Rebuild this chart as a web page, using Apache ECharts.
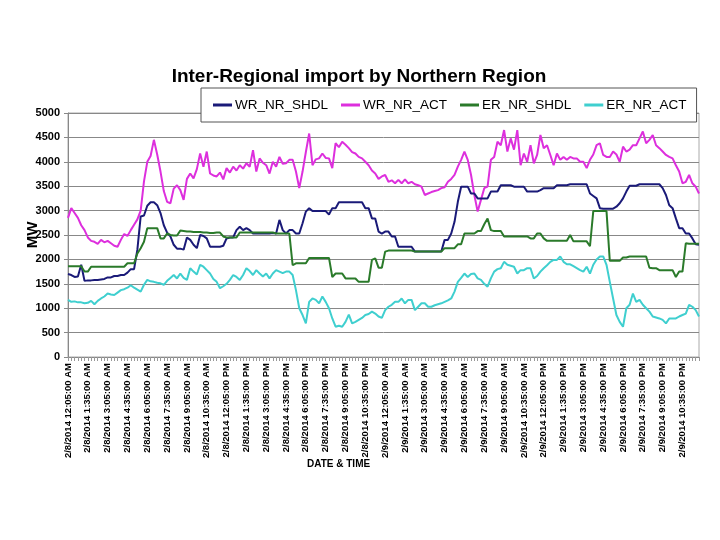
<!DOCTYPE html>
<html>
<head>
<meta charset="utf-8">
<script src="https://cdn.jsdelivr.net/npm/echarts@6/dist/echarts.min.js"></script>
<style>
html,body{margin:0;padding:0;background:#fff;}
#chart{width:720px;height:540px;}
</style>
</head>
<body>
<div id="chart"></div>
<script>
// Time axis: 2/8/2014 12:05 AM to 2/9/2014 ~11:50 PM, 15-minute samples (192 points)
const startDay = 8;
const stepMinutes = 15;
const pointCount = 192;

const seriesNames = ['WR_NR_SHDL', 'WR_NR_ACT', 'ER_NR_SHDL', 'ER_NR_ACT'];

const wrNrShdl = [
  1700,1680,1640,1650, 1890,1560,1570,1570, 1580,1580,1590,1600, 1630,1630,1660,1660,
  1680,1680,1730,1800, 1800,2200,2880,2900, 3100,3170,3170,3110, 2950,2700,2550,2470,
  2300,2220,2220,2200, 2450,2400,2300,2230, 2500,2480,2430,2260, 2260,2260,2260,2280,
  2430,2450,2450,2600, 2670,2600,2640,2600, 2530,2530,2530,2530, 2530,2530,2540,2530,
  2810,2600,2530,2600, 2600,2530,2530,2740, 2980,3050,2990,2990, 2990,2990,2990,2920,
  3050,3050,3170,3170, 3170,3170,3170,3170, 3170,3170,3050,3050, 2840,2840,2570,2530,
  2570,2570,2470,2470, 2260,2260,2260,2260, 2260,2160,2160,2160, 2160,2160,2160,2160,
  2160,2160,2400,2400, 2530,2770,3180,3490, 3490,3490,3350,3350, 3250,3250,3250,3250,
  3390,3390,3390,3520, 3520,3520,3520,3490, 3490,3490,3490,3390, 3390,3390,3390,3420,
  3460,3460,3460,3460, 3520,3520,3520,3520, 3540,3540,3540,3540, 3540,3540,3350,3300,
  3250,3050,3040,3040, 3040,3040,3080,3150, 3250,3390,3510,3510, 3510,3540,3540,3540,
  3540,3540,3540,3540, 3460,3320,3110,3050, 2840,2640,2640,2530, 2530,2430,2310,2300
];

const wrNrAct = [
  2850,3050,2950,2850, 2700,2600,2450,2380, 2360,2320,2400,2350, 2380,2330,2280,2260,
  2400,2520,2480,2600, 2710,2820,3000,3600, 4000,4120,4450,4150, 3800,3400,3180,3150,
  3450,3520,3420,3220, 3650,3760,3660,3850, 4170,3900,4210,3760, 3720,3700,3780,3640,
  3870,3780,3900,3820, 3930,3860,3970,3900, 4240,3800,4070,3980, 3930,3760,4000,3900,
  4100,3960,3970,4040, 4040,3800,3460,3800, 4200,4580,3930,4050, 4070,4170,4080,4070,
  3870,4380,4300,4410, 4350,4280,4200,4170, 4100,4070,4000,3930, 3820,3760,3650,3700,
  3730,3590,3620,3560, 3630,3560,3640,3560, 3590,3540,3520,3490, 3320,3350,3380,3400,
  3420,3460,3480,3590, 3650,3730,3900,4040, 4210,4040,3730,3320, 2980,3220,3460,3490,
  4040,4100,4410,4340, 4650,4210,4480,4250, 4650,3930,4170,4000, 4340,3970,4140,4550,
  4280,4340,4140,3930, 4170,4040,4100,4040, 4100,4070,4070,4000, 4000,3870,4040,4150,
  4340,4380,4140,4100, 4100,4210,4150,4000, 4310,4210,4250,4340, 4340,4480,4620,4380,
  4450,4550,4340,4280, 4210,4140,4100,4070, 3930,3800,3560,3590, 3730,3560,3490,3350
];

const erNrShdl = [
  1860,1860,1860,1860, 1860,1750,1750,1850, 1850,1850,1850,1850, 1850,1850,1850,1850,
  1850,1850,1920,1920, 1920,2120,2230,2360, 2640,2640,2640,2640, 2430,2430,2530,2500,
  2490,2490,2590,2580, 2570,2570,2560,2560, 2560,2550,2550,2540, 2540,2550,2550,2470,
  2450,2450,2450,2450, 2550,2550,2550,2550, 2550,2550,2550,2550, 2550,2550,2550,2530,
  2530,2530,2530,2530, 1880,1920,1920,1920, 1920,2030,2030,2030, 2030,2030,2030,2030,
  1640,1710,1710,1710, 1610,1610,1610,1610, 1540,1540,1540,1540, 1990,2020,1830,1830,
  2160,2180,2180,2180, 2180,2180,2180,2180, 2180,2160,2160,2160, 2160,2160,2160,2160,
  2160,2160,2230,2230, 2230,2230,2310,2310, 2530,2530,2530,2530, 2580,2580,2720,2840,
  2600,2580,2580,2580, 2470,2470,2470,2470, 2470,2470,2470,2470, 2430,2430,2530,2530,
  2430,2380,2380,2380, 2380,2380,2380,2380, 2500,2370,2370,2370, 2370,2370,2270,2990,
  2990,2990,2990,2990, 1970,1970,1970,1970, 2040,2040,2060,2060, 2060,2060,2060,2060,
  1830,1820,1820,1780, 1780,1780,1780,1780, 1640,1750,1750,2330, 2320,2320,2320,2320
];

const erNrAct = [
  1170,1130,1140,1120, 1120,1100,1110,1150, 1080,1150,1200,1240, 1300,1280,1270,1320,
  1370,1390,1420,1470, 1420,1380,1340,1480, 1580,1550,1540,1520, 1510,1480,1560,1620,
  1680,1610,1710,1620, 1580,1820,1750,1690, 1890,1850,1780,1710, 1600,1540,1410,1450,
  1500,1580,1680,1640, 1580,1680,1820,1760, 1680,1780,1710,1650, 1710,1610,1710,1780,
  1750,1720,1750,1750, 1680,1370,1000,860, 690,1130,1200,1170, 1100,1240,1130,1000,
  790,620,640,620, 720,870,690,720, 760,800,860,880, 930,890,830,800,
  960,1030,1070,1130, 1130,1200,1100,1170, 1170,960,1030,1100, 1100,1030,1030,1060,
  1080,1100,1130,1160, 1200,1340,1540,1620, 1710,1640,1700,1710, 1610,1580,1500,1440,
  1610,1750,1800,1820, 1950,1890,1870,1850, 1710,1780,1780,1820, 1820,1610,1660,1750,
  1820,1880,1950,1990, 1990,2060,1950,1900, 1900,1860,1820,1780, 1750,1850,1710,1890,
  2000,2060,2060,1890, 1540,1200,860,720, 620,1000,1070,1300, 1130,1170,1070,1000,
  930,830,810,790, 760,690,790,790, 790,830,860,890, 1070,1030,960,830
];

const colors = ['#1a1a78', '#dd2fdd', '#2a7a2a', '#3fcfcf'];

function fmtTime(i) {
  const total = 5 + i * stepMinutes;
  const day = startDay + Math.floor(total / 1440);
  const m = total % 1440;
  let hh = Math.floor(m / 60);
  const mm = m % 60;
  const ap = hh < 12 ? 'AM' : 'PM';
  let h12 = hh % 12; if (h12 === 0) h12 = 12;
  return '2/' + day + '/2014 ' + h12 + ':' + String(mm).padStart(2, '0') + ':00 ' + ap;
}
const categories = [];
for (let i = 0; i < pointCount; i++) categories.push(fmtTime(i));

const dataSets = [wrNrShdl, wrNrAct, erNrShdl, erNrAct];

const chart = echarts.init(document.getElementById('chart'));
chart.setOption({
  animation: false,
  backgroundColor: '#ffffff',
  title: {
    text: 'Inter-Regional import by Northern Region',
    left: 354, top: 62, textAlign: 'center',
    textStyle: { fontFamily: 'Liberation Sans, Arial', fontSize: 19, fontWeight: 'bold', color: '#000' }
  },
  legend: {
    data: seriesNames,
    left: 201, top: 88,
    padding: [10, 10, 10, 12],
    backgroundColor: '#fff',
    borderColor: '#555', borderWidth: 1,
    icon: 'rect', itemWidth: 19, itemHeight: 3, itemGap: 13,
    textStyle: { fontFamily: 'Liberation Sans, Arial', fontSize: 13.5, color: '#000', padding: [0, 0, 0, -2] }
  },
  grid: { left: 68, right: 21, top: 113, bottom: 183, show: true, borderColor: '#aaa', borderWidth: 1 },
  xAxis: {
    type: 'category', data: categories, boundaryGap: false,
    axisLine: { lineStyle: { color: '#888' } },
    axisTick: { show: true, interval: 0, length: 4, lineStyle: { color: '#999' } },
    axisLabel: { interval: 5, rotate: 90, margin: 6, fontFamily: 'Liberation Sans, Arial', fontSize: 9.5, fontWeight: 'bold', color: '#000' },
    splitLine: { show: false }
  },
  yAxis: {
    type: 'value', min: 0, max: 5000, interval: 500,
    name: 'MW', nameLocation: 'middle', nameGap: 28, nameRotate: 90, nameMoveOverlap: false,
    nameTextStyle: { fontFamily: 'Liberation Sans, Arial', fontSize: 15, fontWeight: 'bold', color: '#000' },
    axisLine: { show: true, lineStyle: { color: '#888' } },
    axisTick: { show: true, length: 4, lineStyle: { color: '#888' } },
    axisLabel: { margin: 8, fontFamily: 'Liberation Sans, Arial', fontSize: 11, fontWeight: 'bold', color: '#000',
      formatter: function (v) { return String(v); } },
    splitLine: { lineStyle: { color: '#888', width: 1 } }
  },
  graphic: [{
    type: 'text', left: 307, top: 459,
    style: { text: 'DATE & TIME', font: 'bold 10px "Liberation Sans", Arial', fill: '#000' }
  }],
  series: seriesNames.map((n, k) => ({
    name: n, type: 'line', data: dataSets[k],
    showSymbol: false, symbol: 'none',
    lineStyle: { color: colors[k], width: 2 },
    itemStyle: { color: colors[k] },
    z: k === 0 ? 5 : 3 + k
  }))
});
</script>
</body>
</html>
